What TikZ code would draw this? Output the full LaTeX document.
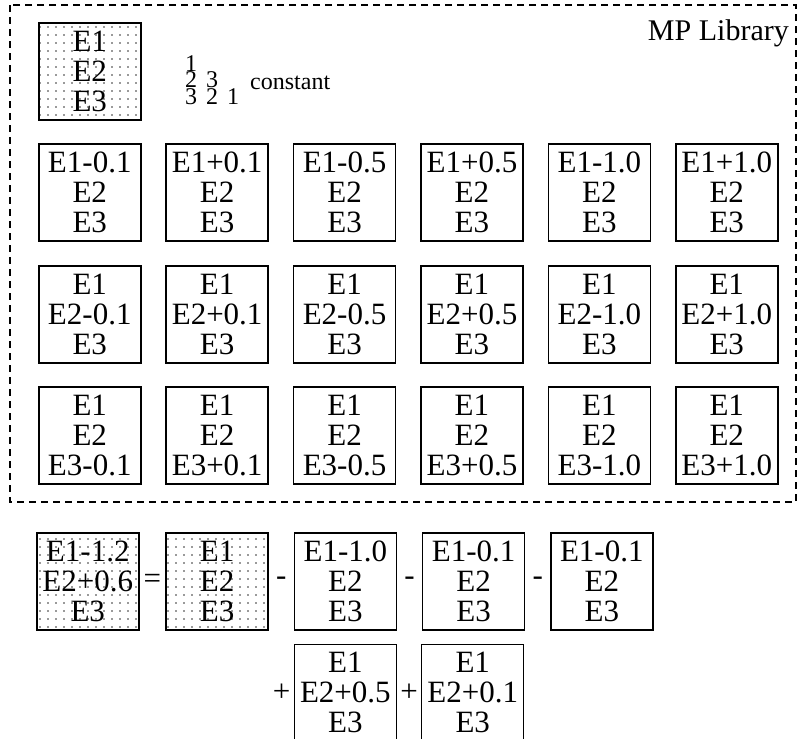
\documentclass[tikz,border=0pt]{standalone}
\usepackage{fontspec}
\setmainfont{Liberation Serif}
\usetikzlibrary{positioning, patterns.meta}

\begin{document}
\begin{tikzpicture}[
  x=1pt, y=-1pt,
  every node/.style={font=\fontsize{31}{30}\selectfont, inner sep=0pt},
  cell/.style={
    rectangle, draw=black, line width=1.5pt, fill=white,
    minimum width=102pt, minimum height=97pt,
    align=center, anchor=north west,
  },
  seed/.style={
    cell, pattern={Dots[distance=8pt, radius=0.85pt]}, pattern color=black!80,
  },
  op/.style={font=\fontsize{31}{30}\selectfont},
  libframe/.style={draw=black, line width=1.3pt, dash pattern=on 7pt off 5pt},
  node distance=4pt,
]
\fill[white] (0,0) rectangle (798,739);
\useasboundingbox (0,0) rectangle (798,739);

\draw[libframe] (10,5) rectangle (796,502);

\node[seed] (ref) at (38,22) {E1\\E2\\E3};
\node[anchor=north west, align=left, font=\fontsize{24}{16.5}\selectfont] (order) at (185,55)
  {1\\2\hspace{9pt}3\\3\hspace{9pt}2\hspace{9pt}1};
\node[anchor=west, font=\fontsize{24}{24}\selectfont] (const) at (250,83) {constant};
\node[anchor=east, font=\fontsize{30}{30}\selectfont] (lib) at (789,33) {MP Library};

\foreach \d [count=\c from 0] in {-0.1,+0.1,-0.5,+0.5,-1.0,+1.0} {
  \node[cell] (a\c) at (38+127.4*\c,143) {E1\d\\E2\\E3};
  \node[cell] (b\c) at (38+127.4*\c,265) {E1\\E2\d\\E3};
  \node[cell] (c\c) at (38+127.4*\c,386) {E1\\E2\\E3\d};
}

\node[seed] (res) at (36,532) {E1-1.2\\E2+0.6\\E3};
\node[op, right=4pt of res]    (eq)   {=};
\node[seed, right=4pt of eq]   (base) {E1\\E2\\E3};
\node[op, right=7pt of base]   (m1)   {-};
\node[cell, right=7pt of m1]   (t1)   {E1-1.0\\E2\\E3};
\node[op, right=7pt of t1]     (m2)   {-};
\node[cell, right=7pt of m2]   (t2)   {E1-0.1\\E2\\E3};
\node[op, right=7pt of t2]     (m3)   {-};
\node[cell, right=7pt of m3]   (t3)   {E1-0.1\\E2\\E3};

\node[cell, below=13pt of t1]  (t4)   {E1\\E2+0.5\\E3};
\node[op, left=3pt of t4]      (p1)   {+};
\node[op, right=3pt of t4]     (p2)   {+};
\node[cell, right=3pt of p2]   (t5)   {E1\\E2+0.1\\E3};
\end{tikzpicture}
\end{document}
